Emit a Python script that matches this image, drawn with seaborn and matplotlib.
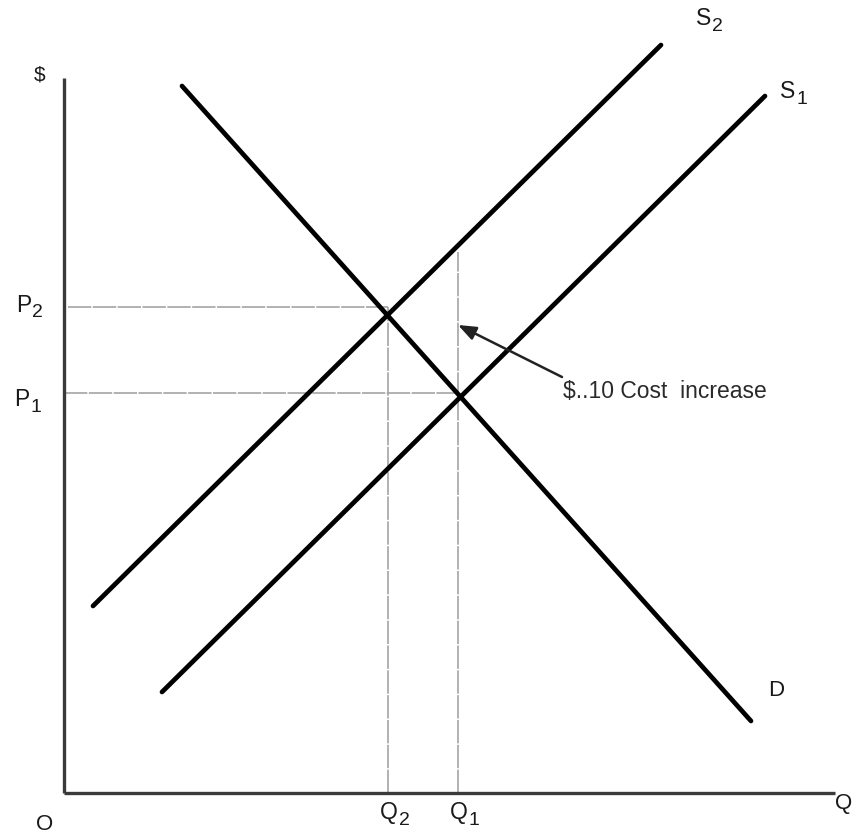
import matplotlib
matplotlib.use("Agg")
import matplotlib.pyplot as plt
import pandas as pd
import seaborn as sns

# Curve endpoints (quantity, price)
curve_names = ["D", "S2", "S1"]
curve_q = [[11.8, 68.7], [2.9, 59.7], [9.8, 70.1]]
curve_p = [[70.7, 7.2], [18.7, 74.8], [10.1, 69.7]]

# Equilibrium prices and quantities
P1, P2 = 40.0, 48.6
Q1, Q2 = 39.4, 32.4
Q1_top = 54.1          # S2 price at Q1 (top of the cost gap)

# Axis extents
q_max, p_max = 77.1, 71.5

cost_note = "$..10 Cost  increase"

sns.set_theme(style="white")
plt.rcParams["font.family"] = ["Liberation Sans", "DejaVu Sans"]

rows = []
for name, qs, ps in zip(curve_names, curve_q, curve_p):
    for q, p in zip(qs, ps):
        rows.append({"curve": name, "q": q, "p": p})
curves = pd.DataFrame(rows)

fig = plt.figure(figsize=(8.52, 8.34), dpi=100)
ax = fig.add_axes([0, 0, 1, 1])
ax.set_xlim(-6.4, 78.8)
ax.set_ylim(-4.1, 79.3)

# Guide lines to the axes
guide = dict(color="#a4a4a4", lw=1.2, ls=(0, (14, 0.9)), zorder=1)
ax.plot([0.4, Q2], [P2, P2], **guide)
ax.plot([0.0, Q1], [P1, P1], **guide)
ax.plot([Q2, Q2], [0, P2], **guide)
ax.plot([Q1, Q1], [0, Q1_top], **guide)

# Demand and supply curves
sns.lineplot(data=curves, x="q", y="p", units="curve", estimator=None,
             sort=False, color="black", lw=3.4, ax=ax, zorder=3,
             solid_capstyle="round")

# Axes
ax.plot([0, 0], [0, p_max], color="#3a3a3a", lw=2.4, zorder=2,
        solid_capstyle="butt")
ax.plot([0, q_max], [0, 0], color="#3a3a3a", lw=2.4, zorder=2,
        solid_capstyle="butt")

for s in ax.spines.values():
    s.set_visible(False)
ax.set_xticks([])
ax.set_yticks([])
ax.set_xlabel("")
ax.set_ylabel("")

ink = "#1a1a1a"


def label(x, y, main, sub=None, size=16.5, ha="center"):
    """Letter with an optional near full-size subscript."""
    t = ax.text(x, y, main, color=ink, fontsize=size, ha=ha, va="center")
    if sub:
        ax.annotate(sub, xy=(1, 0), xycoords=t, xytext=(0.5, -3.5),
                    textcoords="offset points", color=ink,
                    fontsize=size * 0.85, ha="left", va="bottom")
    return t


label(-2.4, 71.8, "$", size=15, )
label(64.0, 77.4, "S", "2")
label(72.4, 70.1, "S", "1")
label(71.2, 10.3, "D", size=16)
label(-4.0, 48.8, "P", "2")
label(-4.2, 39.3, "P", "1")
label(-1.9, -3.2, "O", size=16)
label(Q2 + 0.1, -2.0, "Q", "2")
label(Q1 + 0.1, -2.0, "Q", "1")
label(77.1, -1.0, "Q", size=16, ha="left")

ax.annotate("", xy=(Q1, 46.8), xytext=(49.8, 41.6),
            arrowprops=dict(arrowstyle="-|>,head_length=0.9,head_width=0.35",
                            color="#222222", lw=1.8, shrinkA=0, shrinkB=0))
ax.text(49.9, 40.1, cost_note, color="#2a2a2a", fontsize=16.5,
        ha="left", va="center")

fig.savefig("out.png", dpi=100)
